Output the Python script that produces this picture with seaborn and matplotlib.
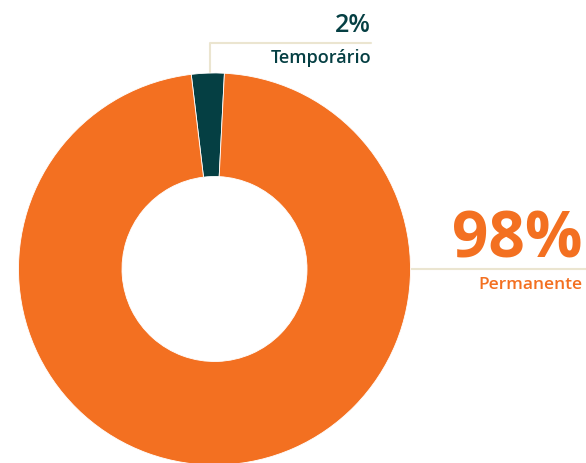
import matplotlib
matplotlib.use("Agg")
import matplotlib.pyplot as plt
import seaborn as sns

categories = ["Temporário", "Permanente"]
shares = [2.7, 97.3]
pct_labels = ["2%", "98%"]
colors = ["#053f43", "#f37021"]

sns.set_theme(style="white")
plt.rcParams['font.family'] = ['Open Sans', 'DejaVu Sans']

W, H = 586, 463
fig = plt.figure(figsize=(W / 100, H / 100), dpi=100)
ax = fig.add_axes([0, 0, 1, 1])

cx, cy = 214.5, H - 269
R, r = 196, 92.5
ax.pie(shares, colors=colors, startangle=87.1, counterclock=True,
       center=(cx, cy), radius=R, frame=True,
       wedgeprops=dict(width=R - r, edgecolor="white", linewidth=0.6))
ax.set_xlim(0, W)
ax.set_ylim(0, H)
ax.set_aspect("equal")
ax.axis("off")

line_col = "#ebe5d0"
# connector for Temporário
ax.plot([209.5, 209.5, 371], [H - 73, H - 43, H - 43], color=line_col, lw=1.5, zorder=0)
# connector for Permanente
ax.plot([cx + R, W], [H - 269, H - 269], color=line_col, lw=1.5, zorder=0)

ax.text(371, H - 32, pct_labels[0], ha="right", va="baseline", fontsize=18,
        color=colors[0], fontweight="semibold")
ax.text(371, H - 63, categories[0], ha="right", va="baseline", fontsize=13,
        color=colors[0], fontweight="semibold")
ax.text(583, H - 258, pct_labels[1], ha="right", va="baseline", fontsize=46,
        color=colors[1], fontweight="bold")
ax.text(583, H - 289, categories[1], ha="right", va="baseline", fontsize=12.5,
        color=colors[1], fontweight="semibold")

fig.savefig("out.png", dpi=100, facecolor="white")
